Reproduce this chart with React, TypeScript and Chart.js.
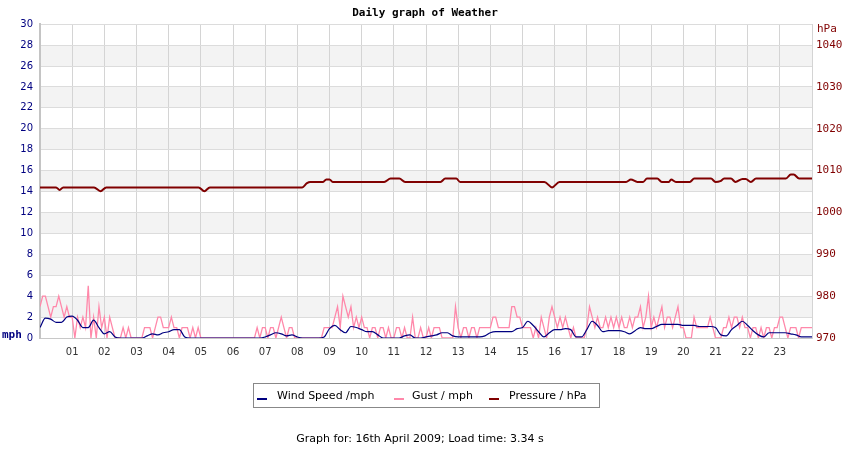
import { useEffect, useRef } from "react";
import { Chart, registerables } from "chart.js";

Chart.register(...registerables);

const hourLabels = [
  "01", "02", "03", "04", "05", "06", "07", "08", "09", "10", "11", "12",
  "13", "14", "15", "16", "17", "18", "19", "20", "21", "22", "23",
];
const pressureTicks = [970, 980, 990, 1000, 1010, 1020, 1030, 1040];
const legendNames = ["Wind Speed /mph", "Gust / mph", "Pressure / hPa"];

// gust, one reading every 5 minutes (12 per hour row)
const gustMph = [
  3, 4, 4, 3, 2, 3, 3, 4, 3, 2, 3, 2, // 00
  2, 0, 2, 1, 2, 1, 5, 0, 2, 0, 3, 1, // 01
  2, 0, 2, 1, 0, 0, 0, 1, 0, 1, 0, 0, // 02
  0, 0, 0, 1, 1, 1, 0, 1, 2, 2, 1, 1, // 03
  1, 2, 1, 1, 0, 1, 1, 1, 0, 1, 0, 1, // 04
  0, 0, 0, 0, 0, 0, 0, 0, 0, 0, 0, 0, // 05
  0, 0, 0, 0, 0, 0, 0, 0, 0, 1, 0, 1, // 06
  1, 0, 1, 1, 0, 1, 2, 1, 0, 1, 1, 0, // 07
  0, 0, 0, 0, 0, 0, 0, 0, 0, 0, 1, 1, // 08
  1, 1, 2, 3, 1, 4, 3, 2, 3, 1, 2, 1, // 09
  2, 1, 1, 0, 1, 1, 0, 1, 1, 0, 1, 0, // 10
  0, 1, 1, 0, 1, 0, 0, 2, 0, 0, 1, 0, // 11
  0, 1, 0, 1, 1, 1, 0, 0, 0, 0, 0, 3, // 12
  1, 0, 1, 1, 0, 1, 1, 0, 1, 1, 1, 1, // 13
  1, 2, 2, 1, 1, 1, 1, 1, 3, 3, 2, 2, // 14
  1, 1, 1, 1, 0, 1, 0, 2, 1, 0, 2, 3, // 15
  2, 1, 2, 1, 2, 1, 0, 1, 0, 0, 0, 0, // 16
  1, 3, 2, 1, 2, 1, 1, 2, 1, 2, 1, 2, // 17
  1, 2, 1, 1, 2, 1, 2, 2, 3, 1, 2, 4, // 18
  1, 2, 1, 2, 3, 1, 2, 2, 1, 2, 3, 1, // 19
  1, 0, 0, 0, 2, 1, 1, 1, 1, 1, 2, 1, // 20
  0, 0, 0, 1, 1, 2, 1, 2, 2, 1, 2, 1, // 21
  1, 0, 1, 1, 0, 1, 0, 1, 1, 0, 1, 1, // 22
  2, 2, 1, 0, 1, 1, 1, 0, 1, 1, 1, 1, // 23
  1,
];

// wind speed, one reading every 10 minutes (6 per hour row)
const windMph = [
  1.0, 1.9, 1.8, 1.5, 1.5, 2.0, // 00
  2.1, 1.7, 1.0, 1.0, 1.7, 1.0, // 01
  0.4, 0.6, 0.1, 0, 0, 0, // 02
  0, 0, 0.2, 0.4, 0.3, 0.5, // 03
  0.6, 0.8, 0.8, 0.1, 0, 0, // 04
  0, 0, 0, 0, 0, 0, // 05
  0, 0, 0, 0, 0, 0, // 06
  0.1, 0.3, 0.5, 0.4, 0.2, 0.3, // 07
  0.1, 0, 0, 0, 0, 0.1, // 08
  0.9, 1.2, 0.8, 0.5, 1.1, 1.0, // 09
  0.8, 0.6, 0.6, 0.3, 0, 0, // 10
  0, 0, 0.2, 0.3, 0, 0, // 11
  0.1, 0.2, 0.3, 0.5, 0.5, 0.2, // 12
  0.1, 0.1, 0.1, 0.1, 0.1, 0.2, // 13
  0.5, 0.6, 0.6, 0.6, 0.6, 0.9, // 14
  1.0, 1.6, 1.2, 0.6, 0.1, 0.5, // 15
  0.8, 0.8, 0.9, 0.8, 0.1, 0.1, // 16
  0.8, 1.6, 1.2, 0.6, 0.7, 0.7, // 17
  0.7, 0.6, 0.4, 0.7, 1.0, 0.9, // 18
  0.9, 1.1, 1.3, 1.3, 1.3, 1.3, // 19
  1.2, 1.2, 1.2, 1.1, 1.1, 1.1, // 20
  1.0, 0.3, 0.2, 0.8, 1.2, 1.6, // 21
  1.2, 0.7, 0.3, 0.1, 0.5, 0.5, // 22
  0.5, 0.5, 0.4, 0.3, 0.1, 0.1, // 23
  0.1,
];

// pressure, read where the line changes (hour, hPa)
const pressureHours = [
  0, 0.5, 0.61, 0.72, 1.68, 1.88, 2.06, 4.93, 5.11, 5.28, 8.15, 8.3, 8.4,
  8.8, 8.9, 9.0, 9.1, 10.7, 10.9, 11.17, 11.35, 12.45, 12.6, 12.94, 13.06,
  15.68, 15.92, 16.15, 18.22, 18.37, 18.57, 18.75, 18.87, 19.19, 19.33,
  19.55, 19.62, 19.77, 20.2, 20.34, 20.86, 21.0, 21.15, 21.27, 21.48, 21.62,
  21.84, 21.94, 22.1, 22.26, 23.19, 23.34, 23.43, 23.6, 24,
];
const pressureHpa = [
  1006.0, 1006.0, 1005.4, 1006.0, 1006.0, 1005.1, 1006.0, 1006.0, 1005.1, 1006.0, 1006.0, 1007.0, 1007.3,
  1007.3, 1007.9, 1007.9, 1007.3, 1007.3, 1008.1, 1008.1, 1007.3, 1007.3, 1008.1, 1008.1, 1007.3,
  1007.3, 1006.0, 1007.3, 1007.3, 1007.9, 1007.3, 1007.3, 1008.1, 1008.1, 1007.3,
  1007.3, 1007.9, 1007.3, 1007.3, 1008.1, 1008.1, 1007.3, 1007.5, 1008.1, 1008.1, 1007.3,
  1008.0, 1008.0, 1007.3, 1008.1, 1008.1, 1009.1, 1009.1, 1008.1, 1008.1,
];

const NAVY = "#000080";
const PINK = "#ff88aa";
const MAROON = "#800000";
const SANS = "'DejaVu Sans', Verdana, sans-serif";
const MONO = "'DejaVu Sans Mono', monospace";

const extrasPlugin = {
  id: "weatherExtras",
  beforeDraw(chart: any) {
    const { ctx, chartArea } = chart;
    const y = chart.scales.y;
    ctx.save();
    ctx.fillStyle = "#ffffff";
    ctx.fillRect(0, 0, chart.width, chart.height);
    ctx.fillStyle = "#f3f3f3";
    for (let v = 2; v < 30; v += 4) {
      const top = y.getPixelForValue(v + 2);
      const bottom = y.getPixelForValue(v);
      ctx.fillRect(chartArea.left, top, chartArea.right - chartArea.left, bottom - top);
    }
    ctx.restore();
  },
  afterDraw(chart: any) {
    const { ctx } = chart;
    ctx.save();
    // axis unit labels
    ctx.textBaseline = "middle";
    ctx.textAlign = "left";
    ctx.font = `bold 11px ${MONO}`;
    ctx.fillStyle = NAVY;
    ctx.fillText("mph", 2, 335);
    ctx.font = `11px ${MONO}`;
    ctx.fillStyle = MAROON;
    ctx.fillText("hPa", 817, 29);

    // legend box
    ctx.strokeStyle = "#888888";
    ctx.lineWidth = 1;
    ctx.strokeRect(253.5, 383.5, 346, 24);
    const markers = [257, 394, 489];
    const texts = [277, 412, 509];
    const colors = [NAVY, PINK, MAROON];
    ctx.font = `11px ${SANS}`;
    legendNames.forEach((name, i) => {
      ctx.fillStyle = colors[i];
      ctx.fillRect(markers[i], 398, 10, 2);
      ctx.fillStyle = "#000000";
      ctx.fillText(name, texts[i], 396);
    });

    ctx.textAlign = "center";
    ctx.fillText("Graph for: 16th April 2009; Load time: 3.34 s", 420, 439);
    ctx.restore();
  },
};

const WeatherGraph: React.FC = () => {
  const chartRef = useRef<HTMLCanvasElement>(null);

  useEffect(() => {
    document.body.style.margin = "0";
    if (!chartRef.current) return;
    const ctx = chartRef.current.getContext("2d");
    if (!ctx) return;

    const chart = new Chart(ctx, {
      type: "line",
      data: {
        datasets: [
          {
            label: legendNames[0],
            data: windMph.map((v, i) => ({ x: i / 6, y: v })),
            borderColor: NAVY,
            backgroundColor: NAVY,
            borderWidth: 1.2,
            pointRadius: 0,
            cubicInterpolationMode: "monotone",
            yAxisID: "y",
          },
          {
            label: legendNames[1],
            data: gustMph.map((v, i) => ({ x: i / 12, y: v })),
            borderColor: PINK,
            backgroundColor: PINK,
            borderWidth: 1.3,
            pointRadius: 0,
            tension: 0,
            yAxisID: "y",
          },
          {
            label: legendNames[2],
            data: pressureHours.map((h, i) => ({ x: h, y: pressureHpa[i] })),
            borderColor: MAROON,
            backgroundColor: MAROON,
            borderWidth: 2,
            pointRadius: 0,
            cubicInterpolationMode: "monotone",
            yAxisID: "y1",
          },
        ],
      },
      options: {
        animation: false,
        responsive: false,
        events: [],
        layout: { padding: { left: 0, right: 0, top: 0, bottom: 82 } },
        plugins: {
          legend: { display: false },
          tooltip: { enabled: false },
          title: {
            display: true,
            text: "Daily graph of Weather",
            color: "#000000",
            font: { family: MONO, size: 11, weight: "bold" },
            padding: { top: 7, bottom: 4 },
          },
        },
        scales: {
          x: {
            type: "linear",
            min: 0,
            max: 24,
            afterFit: (scale: any) => {
              scale.height = 30;
            },
            ticks: {
              stepSize: 1,
              autoSkip: false,
              maxRotation: 0,
              padding: 8,
              color: "#333333",
              font: { family: SANS, size: 10 },
              callback: (value: any) =>
                value >= 1 && value <= 23 ? hourLabels[value - 1] : "",
            },
            grid: { color: "#d4d4d4", drawTicks: false },
            border: { color: "#c8c8c8", width: 1 },
          },
          y: {
            position: "left",
            min: 0,
            max: 30,
            afterFit: (scale: any) => {
              scale.width = 40;
            },
            ticks: {
              stepSize: 2,
              padding: 7,
              color: NAVY,
              font: { family: SANS, size: 10 },
            },
            grid: { color: "#dcdcdc", drawTicks: false },
            border: { color: "#c4c4c4", width: 2 },
          },
          y1: {
            position: "right",
            min: 970,
            max: 1045,
            afterFit: (scale: any) => {
              scale.width = 38;
            },
            afterBuildTicks: (scale: any) => {
              scale.ticks = pressureTicks.map((v) => ({ value: v }));
            },
            ticks: {
              padding: 4,
              color: MAROON,
              font: { family: MONO, size: 11 },
              callback: (value: any) => String(value),
            },
            grid: { display: false, drawTicks: false },
            border: { color: "#d4d4d4", width: 1 },
          },
        },
      },
      plugins: [extrasPlugin],
    });

    return () => {
      chart.destroy();
    };
  }, []);

  return (
    <div style={{ width: 850, height: 450 }}>
      <canvas ref={chartRef} width={850} height={450} style={{ width: 850, height: 450 }}></canvas>
    </div>
  );
};

export default function App() {
  return <WeatherGraph />;
}
